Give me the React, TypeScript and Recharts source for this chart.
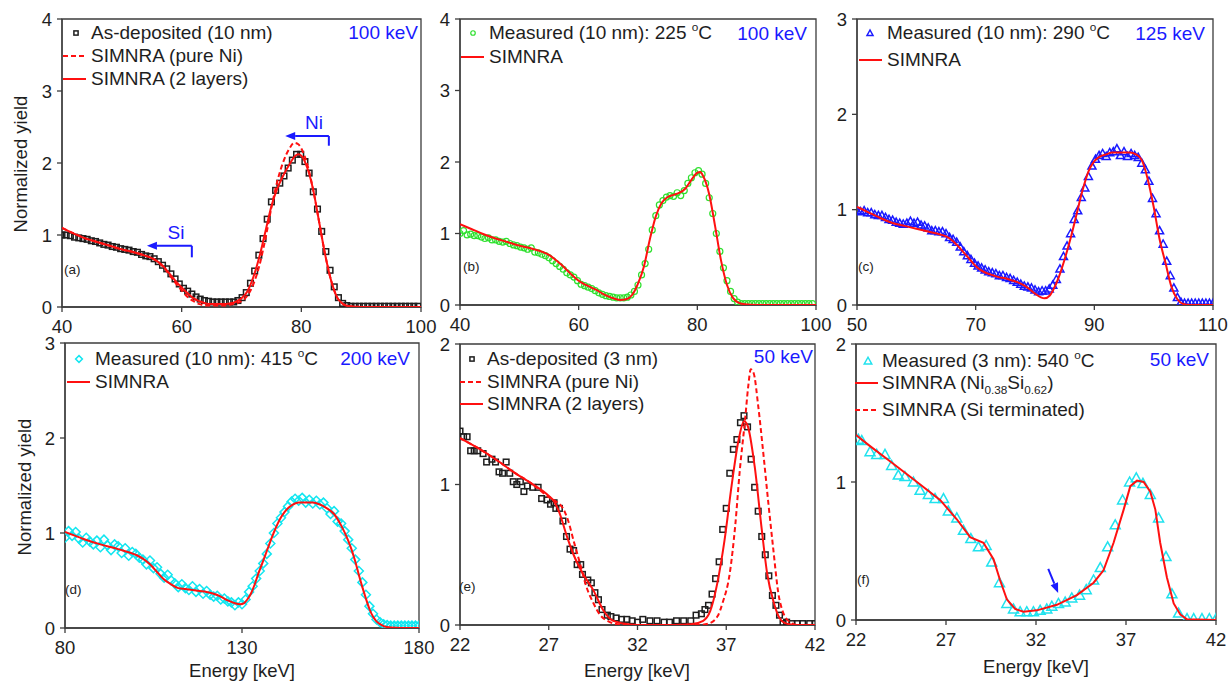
import React from "react";
import { ComposedChart, Line, Scatter, XAxis, YAxis, ReferenceArea, ReferenceLine } from "recharts";

type Pt = [number, number];

// ---- (a) as-deposited 10 nm, 100 keV ----
const aMeasured: Pt[] = [
  [40, 1.0], [40.7, 1.0], [41.4, 0.99], [42.1, 0.97], [42.8, 0.96], [43.5, 0.95], [44.2, 0.94], [44.9, 0.92],
  [45.6, 0.91], [46.3, 0.89], [47, 0.87], [47.7, 0.86], [48.4, 0.84], [49.1, 0.83], [49.8, 0.81], [50.5, 0.8],
  [51.2, 0.79], [51.9, 0.77], [52.6, 0.76], [53.3, 0.73], [54, 0.71], [54.7, 0.7], [55.4, 0.67], [56.1, 0.63],
  [56.8, 0.58], [57.5, 0.53], [58.2, 0.46], [58.9, 0.39], [59.6, 0.32], [60.3, 0.26], [61, 0.22], [61.7, 0.18],
  [62.4, 0.14], [63.1, 0.11], [63.8, 0.09], [64.5, 0.08], [65.2, 0.07], [65.9, 0.07], [66.6, 0.07], [67.3, 0.07],
  [68, 0.07], [68.7, 0.07], [69.4, 0.09], [70.1, 0.13], [70.8, 0.2], [71.5, 0.33], [72.2, 0.5], [72.9, 0.72],
  [73.6, 0.95], [74.3, 1.22], [75, 1.46], [75.7, 1.62], [76.4, 1.72], [77.1, 1.82], [77.8, 1.93], [78.5, 2.04],
  [79.2, 2.12], [79.9, 2.12], [80.6, 2.02], [81.3, 1.86], [82, 1.6], [82.7, 1.36], [83.4, 1.05], [84.1, 0.77],
  [84.8, 0.51], [85.5, 0.28], [86.2, 0.13], [86.9, 0.05], [87.6, 0.02], [88.3, 0.01], [89, 0.01], [89.7, 0.01],
  [90.4, 0.01], [91.1, 0.01], [91.8, 0.01], [92.5, 0.01], [93.2, 0.01], [93.9, 0.01], [94.6, 0.01], [95.3, 0.01],
  [96, 0.01], [96.7, 0.01], [97.4, 0.01], [98.1, 0.01], [98.8, 0.01], [99.5, 0.01],
];
const aTwoLayers: Pt[] = [
  [40, 1.1], [42, 1.02], [44, 0.95], [46, 0.9], [48, 0.85], [50, 0.8], [52, 0.76], [54, 0.71], [55, 0.68],
  [56, 0.63], [57, 0.56], [58, 0.46], [59, 0.36], [60, 0.27], [61, 0.19], [62, 0.12], [63, 0.08], [64, 0.05],
  [65, 0.04], [66, 0.04], [67, 0.04], [68, 0.05], [69, 0.07], [70, 0.12], [71, 0.22], [72, 0.42], [73, 0.7],
  [74, 1.05], [75, 1.4], [76, 1.65], [77, 1.83], [78, 1.98], [79, 2.1], [79.5, 2.12], [80, 2.1], [81, 1.93],
  [82, 1.62], [83, 1.17], [84, 0.72], [85, 0.36], [86, 0.13], [87, 0.04], [88, 0.01], [90, 0], [100, 0],
];
const aPureNi: Pt[] = [
  [40, 1.1], [42, 1.02], [44, 0.95], [46, 0.9], [48, 0.85], [50, 0.8], [52, 0.76], [54, 0.71], [55, 0.68],
  [56, 0.63], [57, 0.55], [58, 0.44], [59, 0.33], [60, 0.23], [61, 0.14], [62, 0.08], [63, 0.04], [64, 0.02],
  [65, 0.02], [66, 0.02], [67, 0.02], [68, 0.03], [69, 0.05], [70, 0.08], [71, 0.16], [72, 0.32], [73, 0.58],
  [74, 0.95], [75, 1.38], [76, 1.75], [77, 2.02], [78, 2.2], [78.8, 2.28], [79.5, 2.26], [80, 2.2], [81, 1.98],
  [82, 1.62], [83, 1.17], [84, 0.72], [85, 0.36], [86, 0.13], [87, 0.04], [88, 0.01], [90, 0], [100, 0],
];

// ---- (b) 225 °C, 100 keV ----
const bMeasured: Pt[] = [
  [40, 1.0], [40.6, 1.04], [41.2, 0.98], [41.8, 0.99], [42.4, 0.97], [43, 0.97], [43.6, 0.95], [44.2, 0.93],
  [44.8, 0.94], [45.4, 0.91], [46, 0.91], [46.6, 0.89], [47.2, 0.88], [47.8, 0.89], [48.4, 0.86], [49, 0.84],
  [49.6, 0.83], [50.2, 0.81], [50.8, 0.8], [51.4, 0.78], [52, 0.8], [52.6, 0.74], [53.2, 0.73], [53.8, 0.71],
  [54.4, 0.69], [55, 0.66], [55.6, 0.62], [56.2, 0.58], [56.8, 0.54], [57.4, 0.5], [58, 0.45], [58.6, 0.42],
  [59.2, 0.39], [59.8, 0.34], [60.4, 0.29], [61, 0.27], [61.6, 0.25], [62.2, 0.23], [62.8, 0.2], [63.4, 0.17],
  [64, 0.15], [64.6, 0.13], [65.2, 0.12], [65.8, 0.11], [66.4, 0.1], [67, 0.1], [67.6, 0.1], [68.2, 0.11],
  [68.8, 0.14], [69.4, 0.19], [70, 0.28], [70.6, 0.42], [71.2, 0.58], [71.8, 0.78], [72.4, 1.05], [73, 1.25],
  [73.6, 1.4], [74.2, 1.46], [74.8, 1.51], [75.4, 1.53], [76, 1.52], [76.6, 1.57], [77.2, 1.53], [77.8, 1.6],
  [78.4, 1.7], [79, 1.78], [79.6, 1.85], [80.2, 1.88], [80.8, 1.83], [81.4, 1.7], [82, 1.5], [82.6, 1.28],
  [83.2, 1.0], [83.8, 0.75], [84.4, 0.52], [85, 0.34], [85.6, 0.19], [86.2, 0.09], [86.8, 0.04], [87.4, 0.02],
  [88, 0.02], [88.6, 0.02], [89.2, 0.02], [89.8, 0.02], [90.4, 0.02], [91, 0.02], [91.6, 0.02], [92.2, 0.02],
  [92.8, 0.02], [93.4, 0.02], [94, 0.02], [94.6, 0.02], [95.2, 0.02], [95.8, 0.02], [96.4, 0.02], [97, 0.02],
  [97.6, 0.02], [98.2, 0.02], [98.8, 0.02], [99.4, 0.02],
];
const bSim: Pt[] = [
  [40, 1.13], [42, 1.06], [44, 0.99], [46, 0.93], [48, 0.88], [50, 0.83], [52, 0.79], [54, 0.74], [55, 0.7],
  [56, 0.64], [57, 0.57], [58, 0.49], [59, 0.41], [60, 0.34], [61, 0.29], [62, 0.25], [63, 0.21], [64, 0.16],
  [65, 0.12], [66, 0.09], [67, 0.07], [68, 0.08], [69, 0.14], [70, 0.3], [71, 0.54], [72, 0.92], [73, 1.24],
  [74, 1.43], [75, 1.51], [76, 1.54], [77, 1.57], [78, 1.63], [79, 1.75], [80, 1.85], [80.5, 1.86], [81, 1.8],
  [82, 1.55], [83, 1.1], [84, 0.62], [85, 0.28], [86, 0.1], [87, 0.03], [88, 0.01], [90, 0], [100, 0],
];

// ---- (c) 290 °C, 125 keV ----
const cMeasured: Pt[] = [
  [50, 0.99], [50.6, 0.98], [51.2, 0.99], [51.8, 0.97], [52.4, 0.97], [53, 0.95], [53.6, 0.94], [54.2, 0.94],
  [54.8, 0.92], [55.4, 0.9], [56, 0.89], [56.6, 0.87], [57.2, 0.86], [57.8, 0.85], [58.4, 0.86], [59, 0.88],
  [59.6, 0.86], [60.2, 0.87], [60.8, 0.84], [61.4, 0.83], [62, 0.81], [62.6, 0.78], [63.2, 0.78], [63.8, 0.77],
  [64.4, 0.77], [65, 0.75], [65.6, 0.71], [66.2, 0.69], [66.8, 0.66], [67.4, 0.61], [68, 0.56], [68.6, 0.52],
  [69.2, 0.48], [69.8, 0.44], [70.4, 0.41], [71, 0.39], [71.6, 0.37], [72.2, 0.35], [72.8, 0.34], [73.4, 0.33],
  [74, 0.31], [74.6, 0.31], [75.2, 0.29], [75.8, 0.28], [76.4, 0.26], [77, 0.24], [77.6, 0.22], [78.2, 0.2],
  [78.8, 0.19], [79.4, 0.18], [80, 0.16], [80.6, 0.14], [81.2, 0.15], [81.8, 0.15], [82.4, 0.17], [83, 0.21],
  [83.6, 0.27], [84.2, 0.38], [84.8, 0.51], [85.4, 0.62], [86, 0.75], [86.6, 0.9], [87.2, 0.99], [87.8, 1.13],
  [88.4, 1.23], [89, 1.35], [89.6, 1.46], [90.2, 1.53], [90.8, 1.57], [91.4, 1.59], [92, 1.56], [92.6, 1.6],
  [93.2, 1.61], [93.8, 1.64], [94.4, 1.57], [95, 1.61], [95.6, 1.56], [96.2, 1.59], [96.8, 1.57], [97.4, 1.55],
  [98, 1.49], [98.6, 1.42], [99.2, 1.3], [99.8, 1.12], [100.4, 0.96], [101, 0.78], [101.6, 0.64], [102.2, 0.46],
  [102.8, 0.31], [103.4, 0.18], [104, 0.08], [104.6, 0.03], [105.2, 0.02], [105.8, 0.02], [106.4, 0.02],
  [107, 0.02], [107.6, 0.02], [108.2, 0.02], [108.8, 0.02], [109.4, 0.02], [110, 0.02],
];
const cSim: Pt[] = [
  [50, 1.03], [52, 0.97], [54, 0.91], [56, 0.86], [58, 0.83], [60, 0.8], [62, 0.77], [64, 0.74], [65, 0.72],
  [66, 0.68], [67, 0.62], [68, 0.55], [69, 0.48], [70, 0.41], [71, 0.36], [72, 0.33], [73, 0.31], [74, 0.29],
  [75, 0.28], [76, 0.26], [77, 0.24], [78, 0.21], [79, 0.17], [80, 0.12], [81, 0.08], [81.6, 0.07], [82.5, 0.1],
  [83, 0.15], [84, 0.29], [85, 0.48], [86, 0.7], [87, 0.95], [88, 1.2], [89, 1.4], [90, 1.51], [91, 1.56],
  [92, 1.58], [93, 1.6], [94, 1.6], [95, 1.6], [96, 1.6], [97, 1.58], [98, 1.52], [99, 1.32], [100, 1.03],
  [101, 0.69], [102, 0.44], [103, 0.19], [104, 0.06], [105, 0.01], [106, 0], [110, 0],
];

// ---- (d) 415 °C, 200 keV ----
const dMeasured: Pt[] = [
  [80, 0.95], [81, 1.02], [82, 0.97], [83, 1.01], [84, 0.94], [85, 0.9], [86, 0.95], [87, 0.91], [88, 0.88],
  [89, 0.92], [90, 0.85], [91, 0.93], [92, 0.87], [93, 0.82], [94, 0.88], [95, 0.86], [96, 0.79], [97, 0.84],
  [98, 0.76], [99, 0.8], [100, 0.78], [101, 0.74], [102, 0.72], [103, 0.67], [104, 0.71], [105, 0.63],
  [106, 0.64], [107, 0.57], [108, 0.53], [109, 0.56], [110, 0.5], [111, 0.47], [112, 0.43], [113, 0.46],
  [114, 0.42], [115, 0.4], [116, 0.44], [117, 0.38], [118, 0.41], [119, 0.36], [120, 0.39], [121, 0.35],
  [122, 0.33], [123, 0.34], [124, 0.3], [125, 0.31], [126, 0.28], [127, 0.27], [128, 0.24], [129, 0.27],
  [130, 0.25], [131, 0.3], [132, 0.38], [133, 0.44], [134, 0.52], [135, 0.6], [136, 0.68], [137, 0.78],
  [138, 0.89], [139, 1.0], [140, 1.1], [141, 1.16], [142, 1.22], [143, 1.28], [144, 1.33], [145, 1.36],
  [146, 1.34], [147, 1.37], [148, 1.32], [149, 1.35], [150, 1.31], [151, 1.34], [152, 1.3], [153, 1.32],
  [154, 1.26], [155, 1.2], [156, 1.23], [157, 1.12], [158, 1.1], [159, 1.02], [160, 0.93], [161, 0.84],
  [162, 0.72], [163, 0.6], [164, 0.48], [165, 0.35], [166, 0.23], [167, 0.15], [168, 0.09], [169, 0.06],
  [170, 0.04], [171, 0.03], [172, 0.025], [173, 0.025], [174, 0.025], [175, 0.025], [176, 0.025],
  [177, 0.025], [178, 0.025], [179, 0.025], [180, 0.025],
];
const dSim: Pt[] = [
  [80, 1.01], [85, 0.94], [90, 0.88], [95, 0.83], [100, 0.77], [102, 0.73], [104, 0.67], [106, 0.59],
  [108, 0.51], [110, 0.46], [112, 0.42], [114, 0.41], [116, 0.4], [118, 0.39], [120, 0.38], [122, 0.36],
  [124, 0.33], [126, 0.29], [128, 0.26], [129.5, 0.25], [130.5, 0.26], [131.5, 0.3], [132.5, 0.36],
  [133.5, 0.45], [134.5, 0.56], [135.5, 0.66], [136.5, 0.76], [137.5, 0.86], [138.5, 0.96], [139.5, 1.05],
  [140.5, 1.13], [142, 1.22], [144, 1.29], [146, 1.32], [148, 1.32], [150, 1.32], [152, 1.3], [154, 1.26],
  [156, 1.2], [158, 1.08], [160, 0.92], [161, 0.82], [162, 0.7], [163, 0.56], [164, 0.43], [165, 0.31],
  [166, 0.2], [167, 0.12], [168, 0.07], [169, 0.04], [170, 0.02], [172, 0.005], [175, 0], [180, 0],
];

// ---- (e) as-deposited 3 nm, 50 keV ----
const eMeasured: Pt[] = [
  [22, 1.38], [22.2, 1.34], [22.4, 1.34], [22.6, 1.24], [22.8, 1.24], [23, 1.24], [23.3, 1.22], [23.5, 1.16],
  [23.8, 1.18], [24, 1.16], [24.2, 1.09], [24.4, 1.08], [24.6, 1.16], [24.8, 1.08], [25, 1.02], [25.2, 1.0],
  [25.4, 1.02], [25.6, 0.95], [25.8, 0.99], [26.1, 0.98], [26.4, 0.98], [26.6, 0.9], [26.9, 0.89], [27.1, 0.86],
  [27.3, 0.87], [27.4, 0.83], [27.6, 0.83], [27.8, 0.74], [28, 0.63], [28.2, 0.54], [28.4, 0.53], [28.6, 0.43],
  [28.8, 0.43], [28.9, 0.36], [29.2, 0.32], [29.4, 0.3], [29.6, 0.23], [29.8, 0.18], [30, 0.11], [30.3, 0.07],
  [30.5, 0.06], [30.8, 0.05], [31.1, 0.04], [31.4, 0.04], [31.7, 0.03], [32, 0.02], [32.3, 0.04], [32.7, 0.03],
  [33.1, 0.03], [33.5, 0.02], [33.8, 0.02], [34.2, 0.03], [34.6, 0.03], [35, 0.03], [35.3, 0.07], [35.6, 0.08],
  [35.8, 0.11], [36, 0.14], [36.2, 0.22], [36.4, 0.33], [36.6, 0.45], [36.8, 0.68], [37, 0.83], [37.2, 1.08],
  [37.4, 1.25], [37.6, 1.32], [37.8, 1.44], [38, 1.49], [38.2, 1.41], [38.4, 1.18], [38.6, 0.98], [38.8, 0.81],
  [39, 0.63], [39.2, 0.5], [39.4, 0.35], [39.6, 0.21], [39.8, 0.14], [40, 0.07], [40.2, 0.01], [40.4, 0.02],
  [40.7, 0.01], [41, 0.01], [41.3, 0.01], [41.7, 0.01], [42, 0.01],
];
const eTwoLayers: Pt[] = [
  [22, 1.33], [23, 1.26], [24, 1.18], [25, 1.09], [26, 1.01], [26.9, 0.93], [27.3, 0.88], [27.6, 0.8],
  [28, 0.64], [28.4, 0.5], [28.9, 0.37], [29.5, 0.25], [30.1, 0.1], [30.5, 0.04], [31.2, 0.01], [32, 0],
  [34, 0], [35, 0.005], [35.7, 0.03], [36.1, 0.1], [36.5, 0.3], [36.9, 0.6], [37.3, 0.99], [37.7, 1.32],
  [38, 1.45], [38.2, 1.42], [38.6, 1.13], [39, 0.68], [39.3, 0.37], [39.7, 0.15], [40, 0.05], [40.4, 0.01],
  [41, 0], [42, 0],
];
const ePureNi: Pt[] = [
  [22, 1.33], [23, 1.26], [24, 1.18], [25, 1.09], [26, 1.01], [27, 0.91], [27.4, 0.88], [27.8, 0.83],
  [28.1, 0.74], [28.4, 0.6], [28.8, 0.42], [29.1, 0.28], [29.5, 0.16], [29.9, 0.07], [30.3, 0.03], [30.7, 0.01],
  [31.5, 0], [35.5, 0], [36, 0.01], [36.5, 0.06], [36.8, 0.16], [37.2, 0.37], [37.5, 0.7], [37.77, 1.11],
  [38.06, 1.46], [38.24, 1.7], [38.38, 1.82], [38.55, 1.79], [38.8, 1.56], [39.09, 1.22], [39.37, 0.87],
  [39.65, 0.54], [39.93, 0.23], [40.2, 0.09], [40.6, 0.02], [41, 0], [42, 0],
];

// ---- (f) 3 nm, 540 °C, 50 keV ----
const fMeasured: Pt[] = [
  [22.13, 1.31], [22.32, 1.3], [22.78, 1.22], [23.15, 1.2], [23.61, 1.2], [23.98, 1.12], [24.35, 1.05],
  [24.72, 1.04], [25.19, 1.0], [25.56, 0.94], [26.02, 0.91], [26.39, 0.88], [26.86, 0.88], [27.13, 0.79],
  [27.6, 0.74], [27.97, 0.65], [28.38, 0.59], [28.8, 0.53], [29.23, 0.54], [29.54, 0.42], [29.97, 0.27],
  [30.38, 0.12], [30.75, 0.08], [31.12, 0.06], [31.49, 0.06], [31.86, 0.06], [32.23, 0.07], [32.6, 0.08],
  [32.88, 0.1], [33.25, 0.12], [33.62, 0.13], [33.99, 0.16], [34.42, 0.18], [34.79, 0.22], [35.2, 0.29],
  [35.57, 0.38], [35.98, 0.53], [36.4, 0.69], [36.81, 0.87], [37.2, 1.0], [37.57, 1.03], [37.94, 0.99],
  [38.35, 0.91], [38.81, 0.74], [39.22, 0.46], [39.55, 0.19], [39.92, 0.05], [40.39, 0.01], [40.76, 0.01],
  [41.22, 0.01], [41.63, 0.01], [42, 0.01],
];
const fSim: Pt[] = [
  [22, 1.34], [22.78, 1.26], [23.89, 1.15], [25.19, 1.02], [26.67, 0.87], [27.6, 0.73], [28.34, 0.6],
  [29.08, 0.56], [29.64, 0.44], [30, 0.29], [30.38, 0.15], [30.84, 0.08], [31.3, 0.06], [32.05, 0.07],
  [33.16, 0.11], [34.27, 0.18], [35.2, 0.27], [35.75, 0.36], [36.31, 0.56], [36.87, 0.8], [37.24, 0.97],
  [37.61, 1.01], [37.98, 1.0], [38.35, 0.93], [38.63, 0.8], [38.9, 0.56], [39.27, 0.31], [39.65, 0.12],
  [40.02, 0.04], [40.39, 0.005], [42, 0],
];

const ticksAB = [40, 60, 80, 100];
const ticksC = [50, 70, 90, 110];
const ticksD = [80, 130, 180];
const ticksEF = [22, 27, 32, 37, 42];

const RED = "#ff1010";
const BLUE = "#1a1aff";
const INK = "#1e1e1e";
const AXIS = "#3c3c3c";
const FONT = "Arial, 'Liberation Sans', sans-serif";
const LEG = 19;

type MarkKind = "square" | "circle" | "triangle" | "diamond" | "bigTriangle";
const markColor: Record<MarkKind, string> = {
  square: "#1e1e1e",
  circle: "#2ee02e",
  triangle: BLUE,
  diamond: "#12e6f0",
  bigTriangle: "#20e2ee",
};

function Mark({ kind, cx, cy, k = 1 }: { kind: MarkKind; cx: number; cy: number; k?: number }) {
  const c = markColor[kind];
  if (kind === "square")
    return (
      <rect x={cx - 2.8 * k} y={cy - 2.8 * k} width={5.6 * k} height={5.6 * k} fill="none" stroke={c} strokeWidth={1.5} />
    );
  if (kind === "circle") return <circle cx={cx} cy={cy} r={3 * k} fill="none" stroke={c} strokeWidth={1.2} />;
  if (kind === "diamond") {
    const s = 4.5 * k;
    return (
      <polygon
        points={`${cx},${cy - s} ${cx + s},${cy} ${cx},${cy + s} ${cx - s},${cy}`}
        fill="none"
        stroke={c}
        strokeWidth={1.5}
      />
    );
  }
  const s = (kind === "bigTriangle" ? 5 : 4) * k;
  return (
    <polygon
      points={`${cx},${cy - s} ${cx - s},${cy + s * 0.8} ${cx + s},${cy + s * 0.8}`}
      fill="none"
      stroke={c}
      strokeWidth={1.5}
    />
  );
}

const arrowShape = (p: any) => {
  const { x1, y1, x2, y2 } = p;
  const dx = x2 - x1;
  const dy = y2 - y1;
  const len = Math.hypot(dx, dy) || 1;
  const ux = dx / len;
  const uy = dy / len;
  const L = 10;
  const W = 4;
  const bx = x2 - ux * L;
  const by = y2 - uy * L;
  return (
    <g>
      <line x1={x1} y1={y1} x2={bx} y2={by} stroke={BLUE} strokeWidth={2} />
      <polygon points={`${x2},${y2} ${bx - uy * W},${by + ux * W} ${bx + uy * W},${by - ux * W}`} fill={BLUE} />
    </g>
  );
};

type Curve = { pts: Pt[]; dashed?: boolean; linear?: boolean };
type Arrow = { from: Pt; to: Pt; tick?: Pt };

type PanelProps = {
  box: { l: number; t: number; w: number; h: number };
  xDomain: [number, number];
  xTicks: number[];
  yMax: number;
  measured: Pt[];
  mark: MarkKind;
  curves: Curve[];
  arrows?: Arrow[];
};

function Panel({ box, xDomain, xTicks, yMax, measured, mark, curves, arrows = [] }: PanelProps) {
  const ML = 60;
  const MT = 10;
  const MR = 24;
  const MB = 40;
  const yTicks = Array.from({ length: yMax + 1 }, (_, i) => i);
  const tickStyle = { fill: INK, fontSize: 18.5, fontFamily: FONT };
  return (
    <div style={{ position: "absolute", left: box.l - ML, top: box.t - MT }}>
      <ComposedChart
        width={box.w + ML + MR}
        height={box.h + MT + MB}
        margin={{ top: MT, right: MR, bottom: 0, left: 0 }}
        style={{ overflow: "visible" }}
      >
        <XAxis
          type="number"
          dataKey="x"
          domain={xDomain}
          ticks={xTicks}
          interval={0}
          allowDataOverflow
          height={MB}
          tick={tickStyle}
          tickSize={5}
          tickMargin={8}
          stroke={AXIS}
          strokeWidth={1.3}
        />
        <YAxis
          type="number"
          dataKey="y"
          domain={[0, yMax]}
          ticks={yTicks}
          interval={0}
          allowDataOverflow
          width={ML}
          tick={tickStyle}
          tickSize={5}
          tickMargin={5}
          stroke={AXIS}
          strokeWidth={1.3}
        />
        <ReferenceArea
          x1={xDomain[0]}
          x2={xDomain[1]}
          y1={0}
          y2={yMax}
          fill="none"
          fillOpacity={0}
          stroke={AXIS}
          strokeWidth={1.3}
          strokeOpacity={1}
        />
        <Scatter
          data={measured.map(([x, y]) => ({ x, y }))}
          isAnimationActive={false}
          shape={(p: any) => <Mark kind={mark} cx={p.cx} cy={p.cy} />}
        />
        {curves.map((c, i) => (
          <Line
            key={i}
            data={c.pts.map(([x, y]) => ({ x, y }))}
            dataKey="y"
            type={c.linear ? "linear" : "monotone"}
            stroke={RED}
            strokeWidth={2}
            strokeDasharray={c.dashed ? "5 3" : undefined}
            dot={false}
            activeDot={false}
            isAnimationActive={false}
            zIndex={700}
          />
        ))}
        {arrows.map((a, i) => (
          <ReferenceLine
            key={"ar" + i}
            segment={[
              { x: a.from[0], y: a.from[1] },
              { x: a.to[0], y: a.to[1] },
            ]}
            stroke={BLUE}
            shape={arrowShape}
          />
        ))}
        {arrows
          .filter((a) => a.tick)
          .map((a, i) => (
            <ReferenceLine
              key={"tk" + i}
              segment={[
                { x: a.from[0], y: a.from[1] },
                { x: a.tick![0], y: a.tick![1] },
              ]}
              stroke={BLUE}
              strokeWidth={2}
            />
          ))}
      </ComposedChart>
    </div>
  );
}

function Txt({
  x,
  y,
  size = LEG,
  color = INK,
  anchor = "start",
  children,
}: {
  x: number;
  y: number;
  size?: number;
  color?: string;
  anchor?: "start" | "middle" | "end";
  children: React.ReactNode;
}) {
  const tx = anchor === "end" ? "-100%" : anchor === "middle" ? "-50%" : "0";
  return (
    <div
      style={{
        position: "absolute",
        left: x,
        top: y,
        transform: `translate(${tx}, -50%)`,
        fontSize: size,
        color,
        lineHeight: 1.15,
        whiteSpace: "nowrap",
      }}
    >
      {children}
    </div>
  );
}

function LegendSym({ x, y, kind }: { x: number; y: number; kind: MarkKind | "solid" | "dashed" }) {
  return (
    <svg style={{ position: "absolute", left: x - 14, top: y - 8 }} width={28} height={16}>
      {kind === "solid" && <line x1={1} y1={8} x2={24} y2={8} stroke={RED} strokeWidth={2} />}
      {kind === "dashed" && <line x1={1} y1={8} x2={24} y2={8} stroke={RED} strokeWidth={2} strokeDasharray="5 3" />}
      {kind !== "solid" && kind !== "dashed" && <Mark kind={kind} cx={14} cy={8} k={0.75} />}
    </svg>
  );
}

const Deg = () => <span style={{ fontSize: "0.62em", position: "relative", top: "-0.7em" }}>o</span>;
const Sub = ({ children }: { children: React.ReactNode }) => (
  <span style={{ fontSize: "0.62em", position: "relative", top: "0.45em" }}>{children}</span>
);

const vLabel: React.CSSProperties = {
  position: "absolute",
  transform: "translate(-50%, -50%) rotate(-90deg)",
  fontSize: 18.5,
  color: INK,
  whiteSpace: "nowrap",
};

export default function App() {
  return (
    <div
      style={{
        position: "fixed",
        left: 0,
        top: 0,
        width: 1231,
        height: 684,
        background: "#fff",
        fontFamily: FONT,
        overflow: "hidden",
      }}
    >
      <Panel
        box={{ l: 62, t: 19, w: 359, h: 288 }}
        xDomain={[40, 100]}
        xTicks={ticksAB}
        yMax={4}
        measured={aMeasured}
        mark="square"
        curves={[{ pts: aPureNi, dashed: true }, { pts: aTwoLayers }]}
        arrows={[
          { from: [61.7, 0.85], to: [54.2, 0.85], tick: [61.7, 0.69] },
          { from: [84.6, 2.375], to: [77.3, 2.375], tick: [84.6, 2.24] },
        ]}
      />
      <Panel
        box={{ l: 460, t: 19, w: 356, h: 286 }}
        xDomain={[40, 100]}
        xTicks={ticksAB}
        yMax={4}
        measured={bMeasured}
        mark="circle"
        curves={[{ pts: bSim }]}
      />
      <Panel
        box={{ l: 857, t: 19, w: 356, h: 286 }}
        xDomain={[50, 110]}
        xTicks={ticksC}
        yMax={3}
        measured={cMeasured}
        mark="triangle"
        curves={[{ pts: cSim }]}
      />
      <Panel
        box={{ l: 65, t: 343, w: 354, h: 285 }}
        xDomain={[80, 180]}
        xTicks={ticksD}
        yMax={3}
        measured={dMeasured}
        mark="diamond"
        curves={[{ pts: dSim }]}
      />
      <Panel
        box={{ l: 460, t: 344, w: 355, h: 281 }}
        xDomain={[22, 42]}
        xTicks={ticksEF}
        yMax={2}
        measured={eMeasured}
        mark="square"
        curves={[{ pts: ePureNi, dashed: true }, { pts: eTwoLayers }]}
      />
      <Panel
        box={{ l: 856, t: 344, w: 360, h: 276 }}
        xDomain={[22, 42]}
        xTicks={ticksEF}
        yMax={2}
        measured={fMeasured}
        mark="bigTriangle"
        curves={[{ pts: fSim, linear: true }]}
        arrows={[{ from: [32.68, 0.37], to: [33.23, 0.196] }]}
      />

      {/* axis titles */}
      <div style={{ ...vLabel, left: 21, top: 164 }}>Normalized yield</div>
      <div style={{ ...vLabel, left: 25, top: 487 }}>Normalized yield</div>
      <Txt x={242} y={671} size={18.5} anchor="middle">Energy [keV]</Txt>
      <Txt x={637} y={671} size={18.5} anchor="middle">Energy [keV]</Txt>
      <Txt x={1036} y={667} size={18.5} anchor="middle">Energy [keV]</Txt>

      {/* (a) */}
      <LegendSym x={76} y={33} kind="square" />
      <Txt x={91} y={33}>As-deposited (10 nm)</Txt>
      <LegendSym x={76} y={56} kind="dashed" />
      <Txt x={91} y={56}>SIMNRA (pure Ni)</Txt>
      <LegendSym x={76} y={79} kind="solid" />
      <Txt x={91} y={79}>SIMNRA (2 layers)</Txt>
      <Txt x={418} y={33} anchor="end" color={BLUE}>100 keV</Txt>
      <Txt x={176} y={233} color={BLUE} anchor="middle">Si</Txt>
      <Txt x={314} y={123} color={BLUE} anchor="middle">Ni</Txt>
      <Txt x={64} y={270} size={13.5}>(a)</Txt>

      {/* (b) */}
      <LegendSym x={473} y={33} kind="circle" />
      <Txt x={489} y={33}>
        Measured (10 nm): 225 <Deg />C
      </Txt>
      <LegendSym x={474} y={57} kind="solid" />
      <Txt x={489} y={57}>SIMNRA</Txt>
      <Txt x={807} y={34} anchor="end" color={BLUE}>100 keV</Txt>
      <Txt x={463} y={267} size={13.5}>(b)</Txt>

      {/* (c) */}
      <LegendSym x={870} y={33} kind="triangle" />
      <Txt x={887} y={33}>
        Measured (10 nm): 290 <Deg />C
      </Txt>
      <LegendSym x={872} y={60} kind="solid" />
      <Txt x={887} y={60}>SIMNRA</Txt>
      <Txt x={1205} y={34} anchor="end" color={BLUE}>125 keV</Txt>
      <Txt x={858} y={267} size={13.5}>(c)</Txt>

      {/* (d) */}
      <LegendSym x={79} y={359} kind="diamond" />
      <Txt x={95} y={359}>
        Measured (10 nm): 415 <Deg />C
      </Txt>
      <LegendSym x={80} y={382} kind="solid" />
      <Txt x={95} y={382}>SIMNRA</Txt>
      <Txt x={410} y={359} anchor="end" color={BLUE}>200 keV</Txt>
      <Txt x={65} y={590} size={13.5}>(d)</Txt>

      {/* (e) */}
      <LegendSym x={472} y={359} kind="square" />
      <Txt x={487} y={359}>As-deposited (3 nm)</Txt>
      <LegendSym x={473} y={382} kind="dashed" />
      <Txt x={487} y={382}>SIMNRA (pure Ni)</Txt>
      <LegendSym x={473} y={404} kind="solid" />
      <Txt x={487} y={404}>SIMNRA (2 layers)</Txt>
      <Txt x={813} y={357} anchor="end" color={BLUE}>50 keV</Txt>
      <Txt x={459} y={587} size={13.5}>(e)</Txt>

      {/* (f) */}
      <LegendSym x={868} y={361} kind="bigTriangle" />
      <Txt x={882} y={361}>
        Measured (3 nm): 540 <Deg />C
      </Txt>
      <LegendSym x={868} y={383} kind="solid" />
      <Txt x={882} y={383}>
        SIMNRA (Ni<Sub>0.38</Sub>Si<Sub>0.62</Sub>)
      </Txt>
      <LegendSym x={868} y={410} kind="dashed" />
      <Txt x={882} y={410}>SIMNRA (Si terminated)</Txt>
      <Txt x={1209} y={360} anchor="end" color={BLUE}>50 keV</Txt>
      <Txt x={857} y={580} size={13.5}>(f)</Txt>
    </div>
  );
}
